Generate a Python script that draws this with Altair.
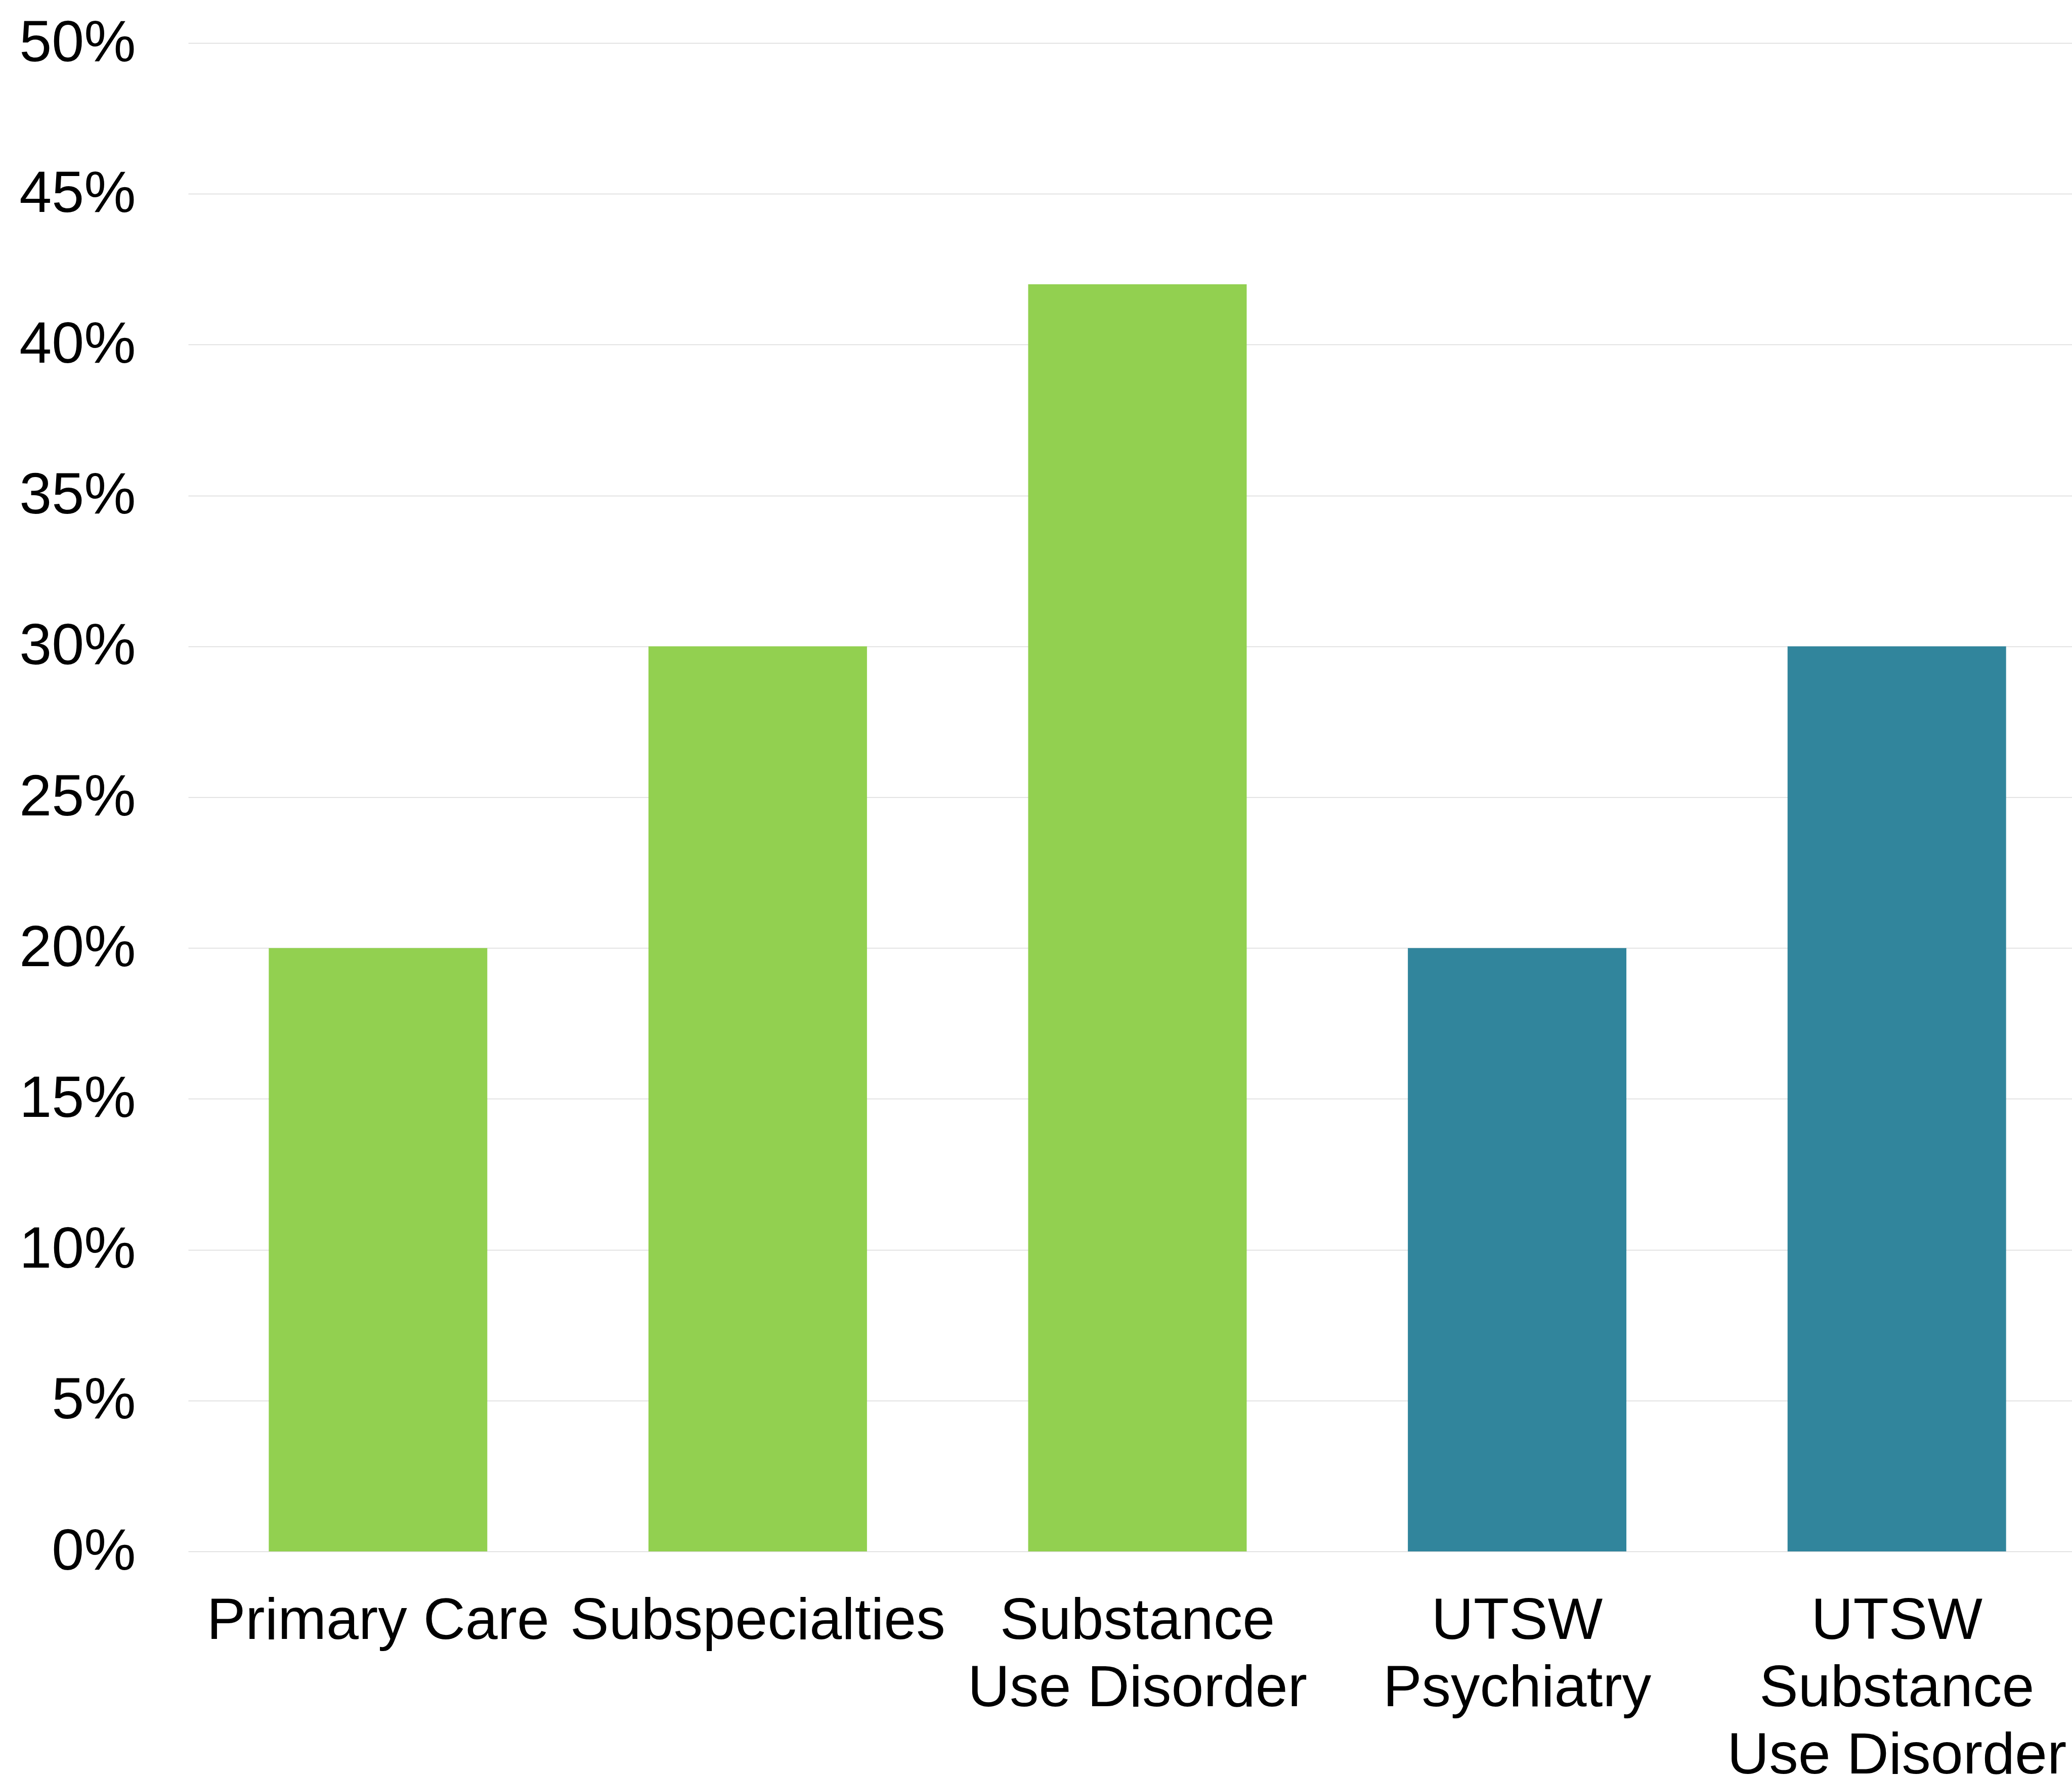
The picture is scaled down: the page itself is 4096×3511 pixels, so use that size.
import altair as alt
import pandas as pd

categories = ["Primary Care", "Subspecialties", "Substance|Use Disorder",
              "UTSW|Psychiatry", "UTSW|Substance|Use Disorder"]
values = [0.20, 0.30, 0.42, 0.20, 0.30]
groups = ["National", "National", "National", "UTSW", "UTSW"]
group_domain = ["National", "UTSW"]
group_colors = ["#92D050", "#31859C"]
y_ticks = [0, 0.05, 0.10, 0.15, 0.20, 0.25, 0.30, 0.35, 0.40, 0.45, 0.50]

df = pd.DataFrame({"category": categories, "value": values, "group": groups})

FONT = "Liberation Sans"

chart = alt.Chart(df).mark_bar().encode(
    x=alt.X("category:N", sort=categories,
            scale=alt.Scale(paddingInner=0.4245, paddingOuter=0.21225),
            axis=alt.Axis(title=None, labelAngle=0, labelFontSize=115, labelFont=FONT,
                          labelColor="#000000", labelPadding=81, labelLineHeight=133,
                          labelLimit=0, ticks=False, domain=False, grid=False,
                          labelExpr="split(datum.label, '|')")),
    y=alt.Y("value:Q", scale=alt.Scale(domain=[0, 0.5], nice=False),
            axis=alt.Axis(title=None, values=y_ticks, format=".0%", labelFontSize=115,
                          labelFont=FONT, labelColor="#000000", labelPadding=104,
                          labelLimit=0, ticks=False, domain=False, grid=True,
                          gridColor="#D9D9D9", gridWidth=1.6)),
    color=alt.Color("group:N", scale=alt.Scale(domain=group_domain, range=group_colors),
                    legend=None),
).properties(
    width=3753,
    height=2982,
    background="#FFFFFF",
    autosize=alt.AutoSizeParams(type="none"),
    padding={"left": 372, "top": 85, "right": -29, "bottom": 444},
).configure_view(stroke=None)

chart.save("out.html", embed_options={"renderer": "svg", "actions": False})
